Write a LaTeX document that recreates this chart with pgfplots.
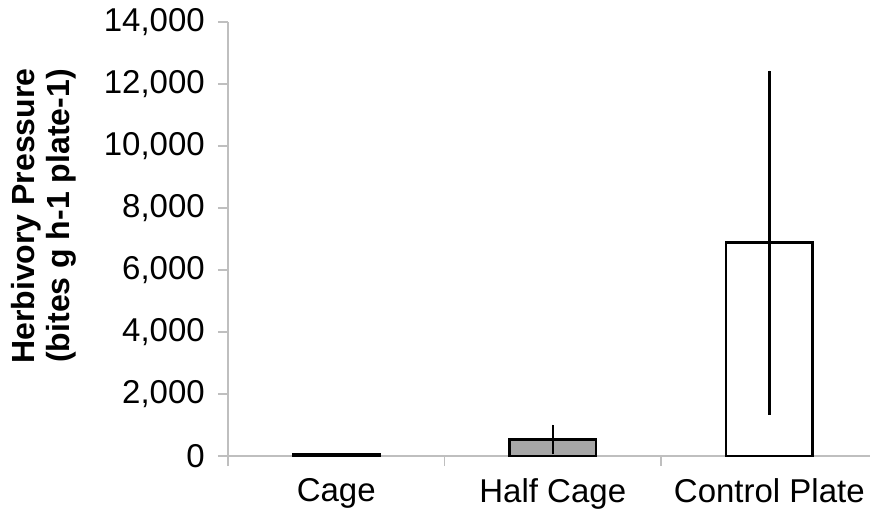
\documentclass[border=0pt]{standalone}
\usepackage{fontspec}
\setmainfont{Liberation Sans}
\usepackage{pgfplots}
\pgfplotsset{compat=1.18}
\definecolor{axgray}{HTML}{BFBFBF}
\definecolor{bargray}{HTML}{A6A6A6}
\begin{document}
\fontsize{33bp}{38bp}\selectfont
\begin{tikzpicture}
\begin{axis}[name=ax, scale only axis, width=642bp, height=434bp,
  xmin=-0.5, xmax=2.465, ymin=0, ymax=14000,
  axis x line*=bottom, axis y line*=left,
  axis line style={draw=axgray, line width=1.3bp},
  ybar,
  ytick={0,2000,...,14000},
  scaled y ticks=false,
  /pgf/number format/1000 sep={,},
  /pgf/number format/assume math mode=true,
  tick align=outside, major tick length=10bp,
  tick style={draw=axgray, line width=1.3bp},
  xtick={0,1,2}, xticklabels={Cage, Half Cage, Control Plate},
  x tick style={draw=none},
  extra x ticks={-0.5,0.5,1.5}, extra x tick labels={},
  extra x tick style={x tick style={draw=axgray, line width=1.3bp}},
  ticklabel style={font=\fontsize{33bp}{38bp}\selectfont},
  yticklabel style={xshift=-2bp},
  xticklabel style={yshift=-1bp},
  ylabel={Herbivory Pressure\\(bites g h-1 plate-1)},
  ylabel style={font=\fontsize{32bp}{35bp}\selectfont\bfseries, align=center, at={(ticklabel cs:0.553)}, yshift=5bp},
  bar width=0.4,
]
\addplot[bar shift=0pt, fill=black, draw=black, line width=2.5bp,
  error bars/.cd, y dir=both, y explicit, error mark=none,
  error bar style={line width=2.5bp, black}]
  coordinates {(0,50) +- (0,20)};
\addplot[bar shift=0pt, fill=bargray, draw=black, line width=2.5bp,
  error bars/.cd, y dir=both, y explicit, error mark=none,
  error bar style={line width=2.5bp, black}]
  coordinates {(1,530) +- (0,480)};
\addplot[bar shift=0pt, fill=white, draw=black, line width=2.5bp,
  error bars/.cd, y dir=both, y explicit, error mark=none,
  error bar style={line width=2.5bp, black}]
  coordinates {(2,6880) +- (0,5550)};
\end{axis}
\pgfresetboundingbox
\path[use as bounding box] ([shift={(-228bp,-59bp)}]ax.south west) rectangle ([shift={(0bp,22bp)}]ax.north east);
\end{tikzpicture}
\end{document}
